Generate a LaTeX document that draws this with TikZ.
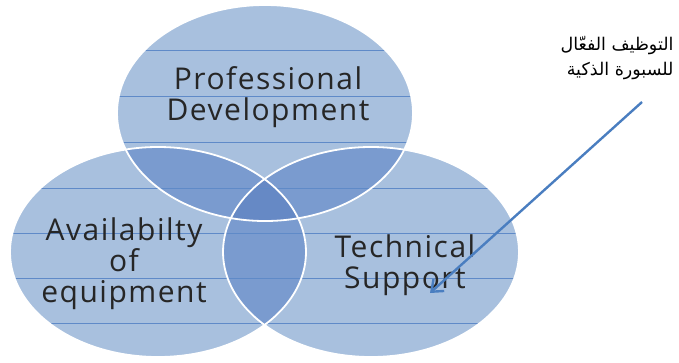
\documentclass[tikz,border=0pt]{standalone}
\usepackage{fontspec}
\usetikzlibrary{arrows.meta}
\newfontfamily\labelfont[LetterSpace=5]{Open Sans}
\newfontfamily\arabicfont[Script=Arabic]{DejaVu Sans}
\TeXXeTstate=1
\definecolor{basefill}{RGB}{168,192,222}
\definecolor{pairfill}{RGB}{122,155,207}
\definecolor{triplefill}{RGB}{102,137,197}
\definecolor{stripe}{RGB}{95,138,200}
\definecolor{arrowblue}{RGB}{74,126,192}
\tikzset{
  setlabel/.style={font=\labelfont\fontsize{30}{31}\selectfont, align=center, text=black!85},
  notelabel/.style={font=\arabicfont\fontsize{17.5}{25}\selectfont, align=right, text=black},
  pointer/.style={draw=arrowblue, line width=2.4pt, -{Straight Barb[length=10pt,width=16pt,line width=2.4pt]}},
  rim/.style={draw=white, line width=1.8pt},
}
\newcommand{\topset}{(265,113) ellipse [x radius=148pt, y radius=108pt]}
\newcommand{\leftset}{(158,252) ellipse [x radius=148pt, y radius=105pt]}
\newcommand{\rightset}{(371,252) ellipse [x radius=148pt, y radius=105pt]}
\begin{document}
\begin{tikzpicture}[x=1pt,y=-1pt]
  \useasboundingbox (0,0) rectangle (679,362);
  % the three sets
  \fill[basefill] \topset;
  \fill[basefill] \leftset;
  \fill[basefill] \rightset;
  % pairwise overlaps
  \begin{scope}
    \clip \topset; \fill[pairfill] \leftset;
  \end{scope}
  \begin{scope}
    \clip \topset; \fill[pairfill] \rightset;
  \end{scope}
  \begin{scope}
    \clip \leftset; \fill[pairfill] \rightset;
  \end{scope}
  % common core
  \begin{scope}
    \clip \topset; \clip \leftset; \fill[triplefill] \rightset;
  \end{scope}
  % horizontal rules across each set
  \foreach \s in {\topset,\leftset,\rightset}{
    \begin{scope}
      \clip \s;
      \foreach \yy in {50,96,142,188,233,278,323}
        \draw[stripe, line width=0.7pt] (0,\yy) -- (679,\yy);
    \end{scope}
  }
  % white rims
  \draw[rim] \topset;
  \draw[rim] \leftset;
  \draw[rim] \rightset;
  % set labels
  \node[setlabel] (prof) at (268,97) {Professional\\Development};
  \node[setlabel] (avail) at (124,264) {Availabilty\\of\\equipment};
  \node[setlabel] (tech) at (405,265) {Technical\\Support};
  % note and its pointer
  \node[notelabel, anchor=north east] (note) at (677,33) {\beginR التوظيف الفعّال\endR\\\beginR للسبورة الذكية\endR};
  \coordinate (tail) at (642,102);
  \coordinate (head) at (430,293);
  \draw[pointer] (tail) -- (head);
\end{tikzpicture}
\end{document}
